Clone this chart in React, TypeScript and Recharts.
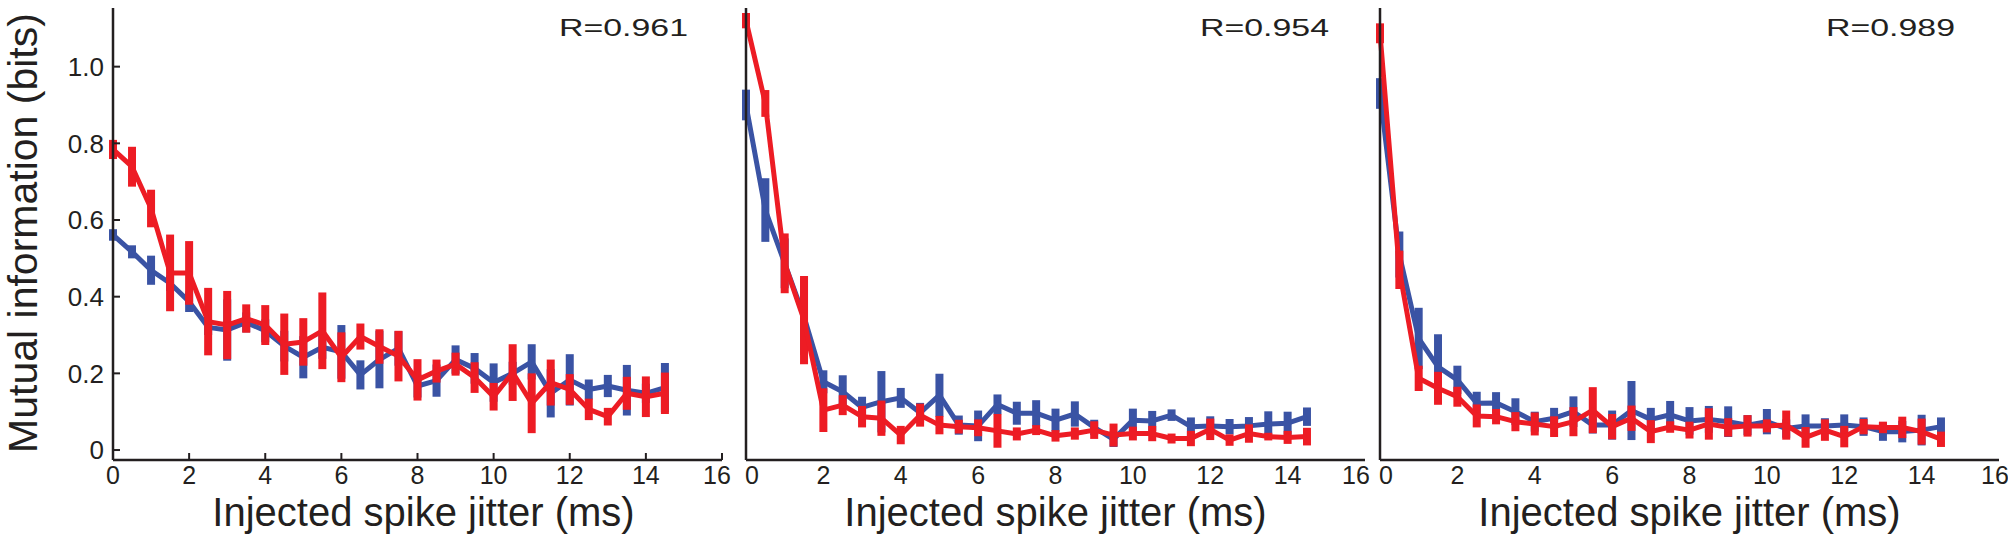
import React from "react";
import { LineChart, Line, XAxis, YAxis, ErrorBar } from "recharts";

// ---- data ----
const jitter = [0, 0.5, 1, 1.5, 2, 2.5, 3, 3.5, 4, 4.5, 5, 5.5, 6, 6.5, 7, 7.5, 8, 8.5, 9, 9.5, 10, 10.5, 11, 11.5, 12, 12.5, 13, 13.5, 14, 14.5];

const p1Blue = [0.561, 0.517, 0.469, 0.435, 0.387, 0.32, 0.313, 0.333, 0.311, 0.271, 0.242, 0.268, 0.256, 0.196, 0.236, 0.265, 0.167, 0.181, 0.236, 0.213, 0.176, 0.2, 0.23, 0.148, 0.183, 0.158, 0.167, 0.156, 0.148, 0.163];
const p1BlueErr = [0.015, 0.017, 0.038, 0.02, 0.027, 0.02, 0.08, 0.026, 0.03, 0.04, 0.055, 0.03, 0.07, 0.038, 0.075, 0.045, 0.03, 0.042, 0.037, 0.04, 0.05, 0.03, 0.046, 0.063, 0.067, 0.026, 0.029, 0.066, 0.025, 0.064];
const p1Red = [0.784, 0.739, 0.63, 0.462, 0.462, 0.335, 0.326, 0.343, 0.326, 0.276, 0.282, 0.311, 0.242, 0.296, 0.27, 0.245, 0.183, 0.206, 0.224, 0.189, 0.139, 0.202, 0.122, 0.176, 0.158, 0.106, 0.087, 0.148, 0.139, 0.148];
const p1RedErr = [0.025, 0.052, 0.049, 0.1, 0.083, 0.088, 0.089, 0.037, 0.052, 0.08, 0.062, 0.1, 0.065, 0.034, 0.045, 0.066, 0.054, 0.03, 0.03, 0.04, 0.036, 0.074, 0.078, 0.06, 0.04, 0.028, 0.023, 0.043, 0.053, 0.054];

const p2Blue = [0.9, 0.626, 0.487, 0.348, 0.178, 0.152, 0.111, 0.126, 0.136, 0.097, 0.143, 0.065, 0.063, 0.119, 0.096, 0.096, 0.078, 0.094, 0.059, 0.028, 0.078, 0.076, 0.091, 0.061, 0.063, 0.061, 0.063, 0.068, 0.07, 0.087];
const p2BlueErr = [0.04, 0.083, 0.065, 0.1, 0.03, 0.043, 0.028, 0.08, 0.026, 0.026, 0.056, 0.025, 0.04, 0.026, 0.03, 0.034, 0.03, 0.033, 0.02, 0.02, 0.03, 0.026, 0.015, 0.024, 0.025, 0.02, 0.023, 0.033, 0.03, 0.024];
const p2Red = [1.12, 0.904, 0.487, 0.339, 0.104, 0.117, 0.087, 0.083, 0.039, 0.091, 0.065, 0.061, 0.058, 0.05, 0.042, 0.052, 0.037, 0.043, 0.052, 0.039, 0.043, 0.043, 0.03, 0.03, 0.054, 0.026, 0.043, 0.035, 0.033, 0.035];
const p2RedErr = [0.02, 0.035, 0.078, 0.115, 0.057, 0.026, 0.028, 0.046, 0.024, 0.03, 0.024, 0.018, 0.022, 0.044, 0.017, 0.013, 0.015, 0.016, 0.023, 0.03, 0.018, 0.02, 0.013, 0.02, 0.028, 0.015, 0.024, 0.01, 0.017, 0.023];

const p3Blue = [0.93, 0.51, 0.291, 0.217, 0.183, 0.122, 0.123, 0.1, 0.074, 0.083, 0.1, 0.065, 0.065, 0.103, 0.08, 0.092, 0.076, 0.08, 0.074, 0.065, 0.074, 0.056, 0.063, 0.063, 0.065, 0.061, 0.048, 0.048, 0.052, 0.061];
const p3BlueErr = [0.04, 0.06, 0.08, 0.085, 0.037, 0.03, 0.028, 0.035, 0.026, 0.027, 0.04, 0.022, 0.038, 0.077, 0.03, 0.036, 0.036, 0.035, 0.04, 0.026, 0.033, 0.024, 0.03, 0.02, 0.028, 0.024, 0.024, 0.028, 0.04, 0.024];
const p3Red = [1.087, 0.47, 0.187, 0.161, 0.139, 0.089, 0.087, 0.074, 0.068, 0.061, 0.074, 0.104, 0.061, 0.083, 0.048, 0.06, 0.052, 0.068, 0.059, 0.063, 0.063, 0.065, 0.033, 0.052, 0.035, 0.061, 0.059, 0.059, 0.048, 0.028];
const p3RedErr = [0.026, 0.05, 0.033, 0.043, 0.026, 0.03, 0.02, 0.025, 0.03, 0.027, 0.038, 0.06, 0.033, 0.033, 0.03, 0.015, 0.022, 0.041, 0.024, 0.028, 0.017, 0.038, 0.027, 0.028, 0.028, 0.02, 0.015, 0.028, 0.034, 0.02];

const rValues = ["R=0.961", "R=0.954", "R=0.989"];
const xTicks = [0, 2, 4, 6, 8, 10, 12, 14, 16];
const yTicks = [0, 0.2, 0.4, 0.6, 0.8, 1.0];
const xLabel = "Injected spike jitter (ms)";
const yLabel = "Mutual information (bits)";

// ---- styles ----
const RED = "#ED1C24";
const BLUE = "#3A53A4";
const INK = "#231F20";
const FONT = "'Liberation Sans', Arial, Helvetica, sans-serif";
const Y_DOMAIN = [-0.026, 1.153];

function buildRows(blue: number[], blueErr: number[], red: number[], redErr: number[]) {
  return jitter.map((x, i) => ({
    x,
    blue: blue[i],
    blueErr: blueErr[i],
    red: red[i],
    redErr: redErr[i],
  }));
}

const panels = [
  {
    rows: buildRows(p1Blue, p1BlueErr, p1Red, p1RedErr),
    r: rValues[0],
    left: 0,
    width: 740,
    margin: { top: 8, right: 18, bottom: 0, left: 0 },
    yWidth: 113,
    showY: true,
    xTickLines: true,
    firstShift: 0,
    lastShift: -5,
    labelDx: 6,
    rInset: 34,
  },
  {
    rows: buildRows(p2Blue, p2BlueErr, p2Red, p2RedErr),
    r: rValues[1],
    left: 730,
    width: 650,
    margin: { top: 8, right: 15, bottom: 0, left: 15 },
    yWidth: 1,
    showY: false,
    xTickLines: false,
    firstShift: 6,
    lastShift: -9,
    labelDx: 0,
    rInset: 36,
  },
  {
    rows: buildRows(p3Blue, p3BlueErr, p3Red, p3RedErr),
    r: rValues[2],
    left: 1370,
    width: 638,
    margin: { top: 8, right: 9, bottom: 0, left: 9 },
    yWidth: 1,
    showY: false,
    xTickLines: false,
    firstShift: 6,
    lastShift: -4,
    labelDx: 0,
    rInset: 44,
  },
];

const H = 543;

function makeXTick(firstShift: number, lastShift: number) {
  return (props: any) => {
    const { x, y, payload, index } = props;
    let shift = 0;
    if (index === 0) shift = firstShift;
    if (index === xTicks.length - 1) shift = lastShift;
    return (
      <text
        x={x + shift}
        y={y}
        dy="0.71em"
        textAnchor="middle"
        fontSize={25}
        fontFamily={FONT}
        fill={INK}
      >
        {payload.value}
      </text>
    );
  };
}

function YLabel(props: any) {
  const vb = props.viewBox || { x: 0, y: 0, width: 0, height: 0 };
  const cx = vb.x + 37;
  const cy = vb.y + vb.height / 2 - 1;
  return (
    <text
      transform={`translate(${cx}, ${cy}) rotate(-90)`}
      textAnchor="middle"
      fontSize={41}
      fontFamily={FONT}
      fill={INK}
    >
      {yLabel}
    </text>
  );
}

function Panel({ p }: { p: (typeof panels)[number] }) {
  const rX = p.width - p.margin.right - p.rInset;
  return (
    <div style={{ position: "absolute", left: p.left, top: 0, width: p.width, height: H }}>
      <LineChart width={p.width} height={H} data={p.rows} margin={p.margin} style={{ fontFamily: FONT }}>
        <XAxis
          dataKey="x"
          type="number"
          domain={[0, 16]}
          ticks={xTicks}
          interval={0}
          height={83}
          tickSize={-7}
          tickMargin={13}
          tickLine={p.xTickLines ? { stroke: INK, strokeWidth: 2 } : false}
          axisLine={{ stroke: INK, strokeWidth: 2.5 }}
          tick={makeXTick(p.firstShift, p.lastShift)}
          label={{
            value: xLabel,
            position: "insideBottom",
            offset: 17,
            dx: p.labelDx,
            fontSize: 40,
            fontFamily: FONT,
            fill: INK,
          }}
        />
        <YAxis
          type="number"
          domain={Y_DOMAIN}
          allowDataOverflow
          ticks={p.showY ? yTicks : []}
          interval={0}
          width={p.yWidth}
          tickSize={-7}
          tickMargin={16}
          tickLine={p.showY ? { stroke: INK, strokeWidth: 2 } : false}
          axisLine={{ stroke: INK, strokeWidth: 2.5 }}
          tick={p.showY ? { fontSize: 26, fontFamily: FONT, fill: INK } : false}
          tickFormatter={(v: number) => (v === 0 ? "0" : v.toFixed(1))}
          label={p.showY ? { content: (lp: any) => <YLabel {...lp} /> } : undefined}
        />
        <Line
          dataKey="blue"
          type="linear"
          stroke={BLUE}
          strokeWidth={5}
          strokeLinejoin="round"
          dot={false}
          activeDot={false}
          isAnimationActive={false}
        >
          <ErrorBar dataKey="blueErr" width={0} stroke={BLUE} strokeWidth={8} direction="y" isAnimationActive={false} />
        </Line>
        <Line
          dataKey="red"
          type="linear"
          stroke={RED}
          strokeWidth={5}
          strokeLinejoin="round"
          dot={false}
          activeDot={false}
          isAnimationActive={false}
        >
          <ErrorBar dataKey="redErr" width={0} stroke={RED} strokeWidth={8} direction="y" isAnimationActive={false} />
        </Line>
        <text
          x={rX}
          y={36}
          textAnchor="end"
          fontSize={23}
          fontFamily={FONT}
          fill={INK}
          textLength={129}
          lengthAdjust="spacingAndGlyphs"
        >
          {p.r}
        </text>
      </LineChart>
    </div>
  );
}

export default function App() {
  return (
    <div style={{ position: "absolute", left: 0, top: 0, width: 2008, height: H, background: "#fff" }}>
      {panels.map((p, i) => (
        <Panel key={i} p={p} />
      ))}
    </div>
  );
}
